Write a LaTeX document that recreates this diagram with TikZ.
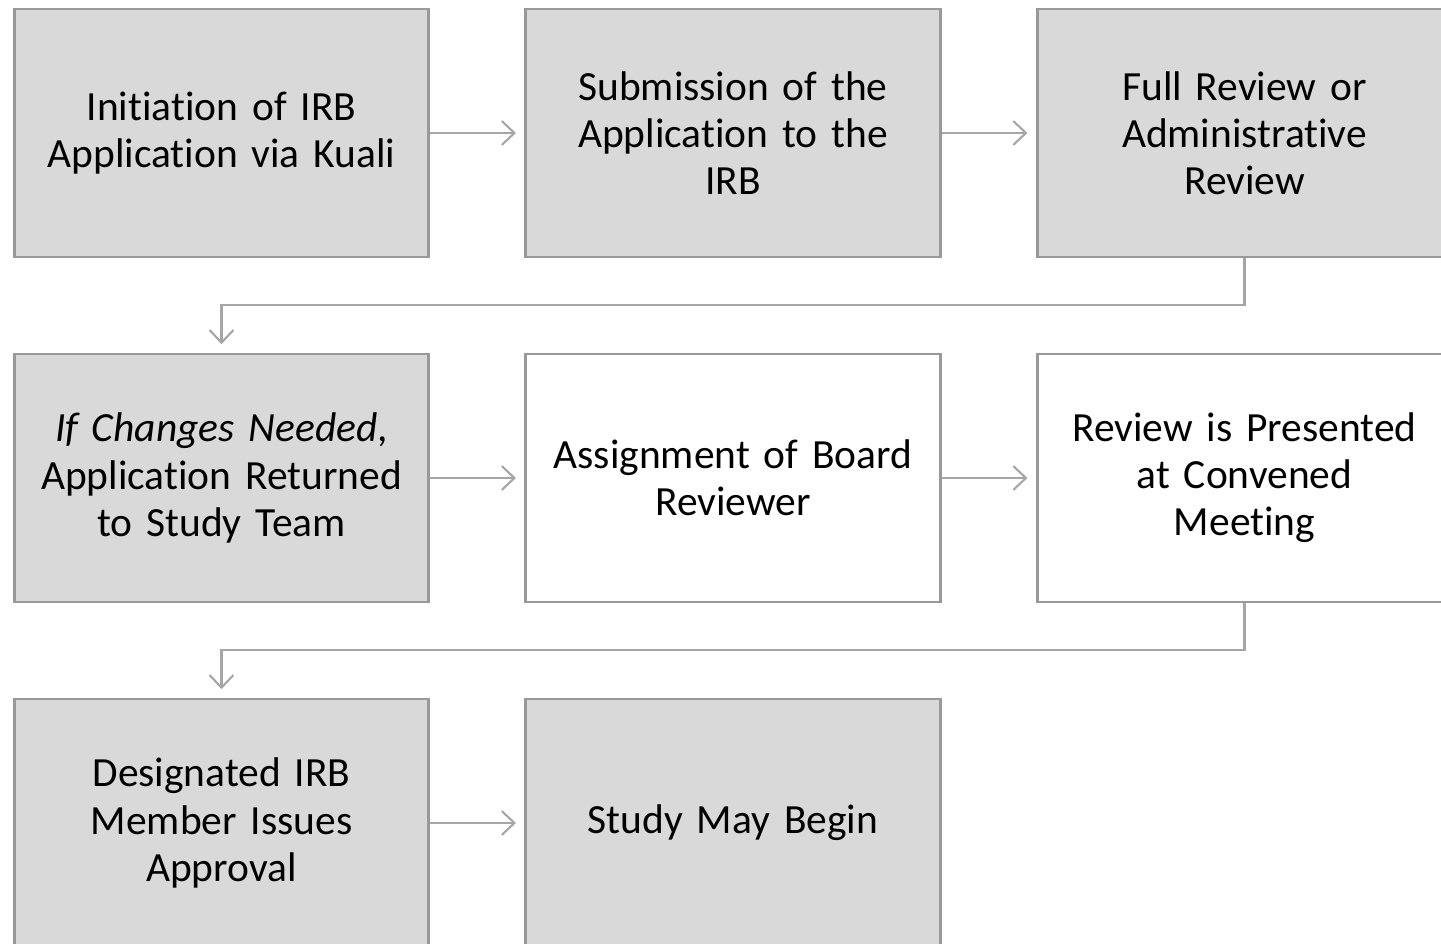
\documentclass[tikz,border=0pt]{standalone}
\usepackage{fontspec}
\setmainfont{Carlito}[Ligatures=NoCommon,WordSpace=0.9]
\usetikzlibrary{arrows.meta}
\definecolor{boxgray}{HTML}{D9D9D9}
\definecolor{linegray}{HTML}{999999}
\definecolor{arrgray}{HTML}{A6A6A6}
\begin{document}
\begin{tikzpicture}[x=0.025cm,y=-0.025cm,
  stepbox/.style ={draw=linegray,line width=1.9pt,fill=boxgray,minimum width=10.36cm,minimum height=6.2cm,text width=10cm,align=center,inner sep=0pt,font=\fontsize{29.5}{33.5}\selectfont},
  whitebox/.style ={stepbox,fill=white},
  link/.style ={draw=arrgray,line width=1.5pt,-{Straight Barb[length=9pt,width=17pt,line width=1.5pt]},shorten >=6pt}]

\useasboundingbox (0,0) rectangle (1441,944);
\clip (0,0) rectangle (1441,944);

%row 1
\node[stepbox] (A) at (221.5,133) {Initiation of IRB\\Application via Kuali};
\node[stepbox] (B) at (733,133) {Submission of the\\Application to the\\IRB};
\node[stepbox] (C) at (1244.5,133) {Full Review or\\Administrative\\Review};

%row 2
\node[stepbox] (D) at (221.5,478) {\textit{If Changes Needed},\\Application Returned\\to Study Team};
\node[whitebox] (E) at (733,478) {Assignment of Board\\Reviewer};
\node[whitebox] (F) at (1244.5,478) {Review is Presented\\at Convened\\Meeting};

%row 3
\node[stepbox] (G) at (221.5,823) {Designated IRB\\Member Issues\\Approval};
\node[stepbox] (H) at (733,823) {Study May Begin};

\path (A) edge [link] (B);
\path (B) edge [link] (C);
\path (D) edge [link] (E);
\path (E) edge [link] (F);
\path (G) edge [link] (H);

\draw [link] (C.south) -- ++(0,47) -| (D.north);
\draw [link] (F.south) -- ++(0,47) -| (G.north);
\end{tikzpicture}
\end{document}
